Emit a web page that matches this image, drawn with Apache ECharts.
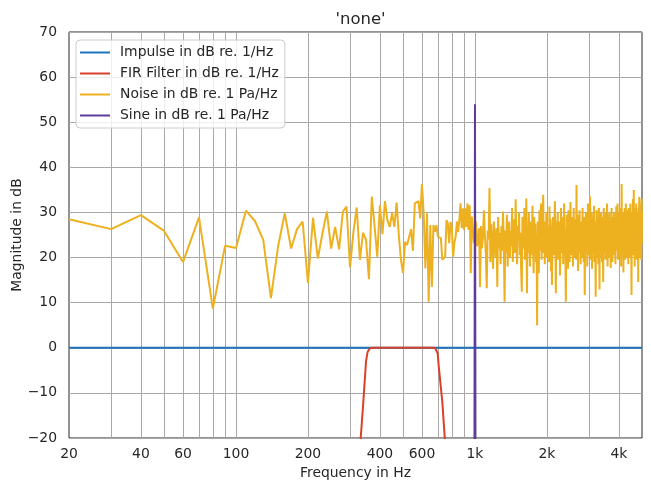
<!DOCTYPE html>
<html>
<head>
<meta charset="utf-8">
<script src="https://cdn.jsdelivr.net/npm/echarts@6/dist/echarts.min.js"></script>
<style>html,body{margin:0;padding:0;background:#fff}#c{width:651px;height:491px}</style>
</head>
<body>
<div id="c"></div>
<script>
// ---- data ----
const titleText = "'none'";
const xTickLabels = [20, 40, 60, 100, 200, 400, 600, 1000, 2000, 4000];
const xGridValues = [30, 40, 50, 60, 70, 80, 90, 100, 200, 300, 400, 500, 600, 700, 800, 900, 1000, 2000, 3000, 4000];

const impulseHz = [20, 5000];
const impulseDb = [0, 0];

const firHz = [320, 340, 350, 355, 362, 370, 680, 690, 698, 705, 730, 770];
const firDb = [-32, -13, -3, -1, -0.2, 0, 0, -0.3, -1.2, -4, -12, -30];

const sineHz = [990, 1000, 1010];
const sineDb = [-100, 54, -100];

// Noise spectrum sampled every 10 Hz starting at 20 Hz
const noiseStartHz = 20;
const noiseStepHz = 10;
const noiseDb = [
  28.5, 26.3, 29.4, 25.9, 19.0, 28.9, 8.7, 22.6, 22.1,
  30.4, 28.1, 23.9, 11.0, 22.5, 29.8, 22.0, 26.3, 28.0, 14.4,
  28.8, 19.8, 25.4, 30.2, 22.0, 26.8, 21.8, 30.2, 31.3, 17.8,
  25.7, 31.1, 19.5, 25.5, 23.9, 15.2, 33.5, 27.0, 20.2, 31.6,
  25.2, 32.5, 28.3, 26.8, 29.9, 26.8, 32.2, 25.0, 19.5, 16.6,
  23.5, 22.8, 22.8, 26.3, 21.5, 32.0, 32.2, 32.5, 28.7, 36.3,
  29.8, 17.6, 29.8, 10.2, 27.2, 13.5, 27.2, 25.7, 27.2, 24.6,
  24.8, 24.3, 19.5, 19.8, 20.2, 28.3, 27.6, 23.2, 27.9, 26.8,
  20.2, 23.2, 24.6, 28.0, 25.7, 28.3, 32.0, 26.5, 30.9, 26.1,
  30.9, 26.8, 32.0, 26.1, 31.6, 16.5, 29.1, 29.3, 23.2, 25.0,
  28.0, 22.5, 24.0, 26.5, 13.5, 27.0, 22.0, 24.5, 30.5, 25.0,
  21.0, 13.2, 26.0, 24.0, 35.4, 19.0, 27.5, 23.0, 17.5, 28.0,
  24.0, 20.0, 26.5, 13.5, 29.0, 22.0, 25.5, 18.5, 27.0, 21.5,
  30.2, 23.0, 10.2, 26.0, 21.0, 29.5, 18.0, 24.5, 28.0, 20.0,
  26.0, 22.5, 31.0, 19.0, 25.0, 28.5, 21.0, 32.9, 23.0, 18.5,
  27.0, 24.0, 30.0, 20.5, 25.5, 17.5, 12.4, 29.0, 22.0, 26.0,
  31.0, 19.5, 24.0, 33.1, 12.1, 27.0, 21.0, 30.0, 23.5, 18.0,
  28.0, 25.0, 20.5, 31.5, 22.0, 16.5, 29.0, 24.0, 27.5, 19.0,
  25.0, 5.0, 28.0, 23.0, 16.5, 30.5, 21.5, 26.0, 32.0, 19.5,
  24.0, 29.0, 33.9, 21.0, 26.5, 18.5, 28.0, 23.5, 30.0, 20.0,
  27.0, 22.0, 25.5, 19.0, 31.3, 24.0, 28.5, 17.0, 21.0, 13.9,
  26.0, 29.0, 23.0, 20.5, 27.0, 32.5, 24.5, 12.1, 28.0, 22.0,
  25.0, 30.0, 19.5, 26.5, 23.0, 28.0, 16.0, 24.0, 31.0, 21.0,
  27.5, 23.5, 29.0, 18.5, 25.0, 32.0, 22.0, 26.0, 20.0, 10.2,
  24.0, 29.5, 21.0, 27.0, 17.5, 30.5, 23.0, 25.5, 19.0, 28.0,
  32.3, 24.0, 20.5, 27.0, 22.5, 29.0, 18.0, 25.0, 31.0, 23.0,
  26.5, 20.0, 28.5, 24.0, 19.5, 36.1, 22.0, 27.0, 25.0, 17.0,
  29.5, 23.0, 26.0, 30.5, 21.0, 24.5, 18.5, 28.0, 22.5, 27.0,
  20.0, 31.0, 24.0, 26.5, 19.0, 29.0, 22.0, 11.7, 27.5, 24.0,
  30.0, 21.5, 25.0, 28.0, 18.0, 26.0, 32.0, 23.0, 20.5, 27.0,
  25.0, 22.0, 33.6, 28.5, 19.5, 26.0, 24.0, 30.0, 17.5, 27.0,
  23.0, 29.0, 21.0, 26.5, 31.5, 19.0, 25.0, 28.0, 22.0, 11.3,
  27.0, 24.0, 30.5, 20.0, 26.0, 22.5, 29.0, 18.5, 25.0, 31.0,
  23.0, 12.9, 28.0, 25.5, 20.0, 27.0, 30.0, 22.0, 24.5, 19.0,
  29.0, 26.0, 23.5, 14.6, 27.5, 31.0, 21.0, 25.0, 28.5, 22.0,
  26.0, 19.5, 30.0, 24.0, 27.0, 21.5, 32.0, 23.0, 18.0, 28.0,
  25.0, 29.5, 22.0, 26.5, 30.0, 20.0, 24.0, 27.0, 23.0, 17.7,
  28.0, 24.5, 31.0, 21.0, 26.0, 19.0, 29.0, 23.5, 27.0, 25.0,
  20.5, 30.0, 24.0, 27.5, 22.0, 28.0, 18.5, 26.0, 23.0, 31.3,
  25.0, 29.0, 21.5, 27.0, 32.0, 23.0, 19.5, 26.5, 30.0, 24.0,
  28.0, 22.0, 25.0, 30.5, 20.0, 27.0, 24.0, 31.0, 18.0, 26.0,
  36.3, 23.0, 28.0, 25.0, 21.0, 29.5, 26.0, 16.7, 27.0, 30.0,
  22.0, 26.5, 31.0, 24.0, 19.5, 28.0, 25.0, 32.0, 21.0, 27.0,
  24.0, 29.0, 20.0, 26.0, 30.5, 23.0, 27.5, 18.5, 25.0, 31.0,
  22.5, 28.0, 26.0, 20.0, 29.5, 24.0, 32.0, 21.0, 27.0, 25.0,
  19.0, 11.7, 28.0, 24.0, 30.0, 22.0, 26.5, 33.0, 20.5, 27.0,
  24.0, 35.0, 21.0, 29.0, 25.5, 18.0, 31.0, 23.0, 27.0, 20.0,
  28.5, 24.0, 32.0, 22.0, 26.0, 19.5, 30.0, 25.0, 27.5, 21.0,
  29.0, 14.6, 26.0, 31.0, 23.0, 28.0, 33.5, 20.0, 25.0, 30.5,
  24.0, 27.0, 21.0, 32.0, 26.0, 19.5, 29.0, 33.0, 23.0, 30.0
];

const seriesNames = ['Impulse in dB re. 1/Hz', 'FIR Filter in dB re. 1/Hz', 'Noise in dB re. 1 Pa/Hz', 'Sine in dB re. 1 Pa/Hz'];
const seriesColors = ['#1f72bd', '#d9412b', '#edb120', '#5e3c99'];

// ---- build ----
const zip = (xs, ys) => xs.map((x, i) => [x, ys[i]]);
const noisePairs = noiseDb.map((v, i) => [noiseStartHz + i * noiseStepHz, v]);

const txt = '#262626';
const font = 'DejaVu Sans';
const gridColor = '#a8a8a8';

const chart = echarts.init(document.getElementById('c'), null, {renderer: 'canvas'});
const lineSeries = (name, data, color, z) => ({
  name, type: 'line', data, showSymbol: false, symbol: 'none',
  lineStyle: {color, width: 2}, itemStyle: {color}, z, animation: false, clip: true
});

chart.setOption({
  animation: false,
  backgroundColor: '#fff',
  textStyle: {fontFamily: font, color: txt},
  title: {
    text: titleText, left: 355.5, top: 6, textAlign: 'center',
    textStyle: {fontFamily: font, fontSize: 16.5, fontWeight: 'normal', color: txt}
  },
  legend: {
    data: seriesNames, orient: 'vertical', left: 76, top: 40,
    icon: 'rect', itemWidth: 30, itemHeight: 2, itemGap: 6,
    padding: [5, 6, 5, 4],
    backgroundColor: 'rgba(255,255,255,0.8)', borderColor: '#cccccc', borderWidth: 1, borderRadius: 4,
    textStyle: {fontFamily: font, fontSize: 13.9, color: txt, padding: [0, 0, 0, 5], lineHeight: 15}
  },
  grid: {left: 69, right: 9, top: 32, bottom: 53, outerBoundsMode: 'none', containLabel: false,
    show: true, borderColor: '#262626', borderWidth: 1, backgroundColor: 'transparent'},
  xAxis: {
    type: 'log', logBase: 10, min: 20, max: 5000,
    name: 'Frequency in Hz', nameLocation: 'middle', nameGap: 28, nameMoveOverlap: false,
    nameTextStyle: {fontFamily: font, fontSize: 13.9, color: txt},
    axisLine: {show: false},
    axisTick: {show: false, customValues: xGridValues},
    axisLabel: {
      customValues: xTickLabels, margin: 9, fontFamily: font, fontSize: 13.9, color: txt,
      formatter: v => (v >= 1000 ? (v / 1000) + 'k' : String(v))
    },
    splitLine: {show: true, lineStyle: {color: gridColor, width: 1}}
  },
  yAxis: {
    type: 'value', min: -20, max: 70, interval: 10,
    name: 'Magnitude in dB', nameLocation: 'middle', nameGap: 45, nameMoveOverlap: false,
    nameTextStyle: {fontFamily: font, fontSize: 13.9, color: txt},
    axisLine: {show: false}, axisTick: {show: false},
    axisLabel: {margin: 12, fontFamily: font, fontSize: 13.9, color: txt,
      formatter: v => (v < 0 ? '\u2212' + Math.abs(v) : String(v))},
    splitLine: {show: true, lineStyle: {color: gridColor, width: 1}}
  },
  series: [
    lineSeries(seriesNames[0], zip(impulseHz, impulseDb), seriesColors[0], 2),
    lineSeries(seriesNames[1], zip(firHz, firDb), seriesColors[1], 3),
    lineSeries(seriesNames[2], noisePairs, seriesColors[2], 4),
    lineSeries(seriesNames[3], zip(sineHz, sineDb), seriesColors[3], 5)
  ]
});
</script>
</body>
</html>
